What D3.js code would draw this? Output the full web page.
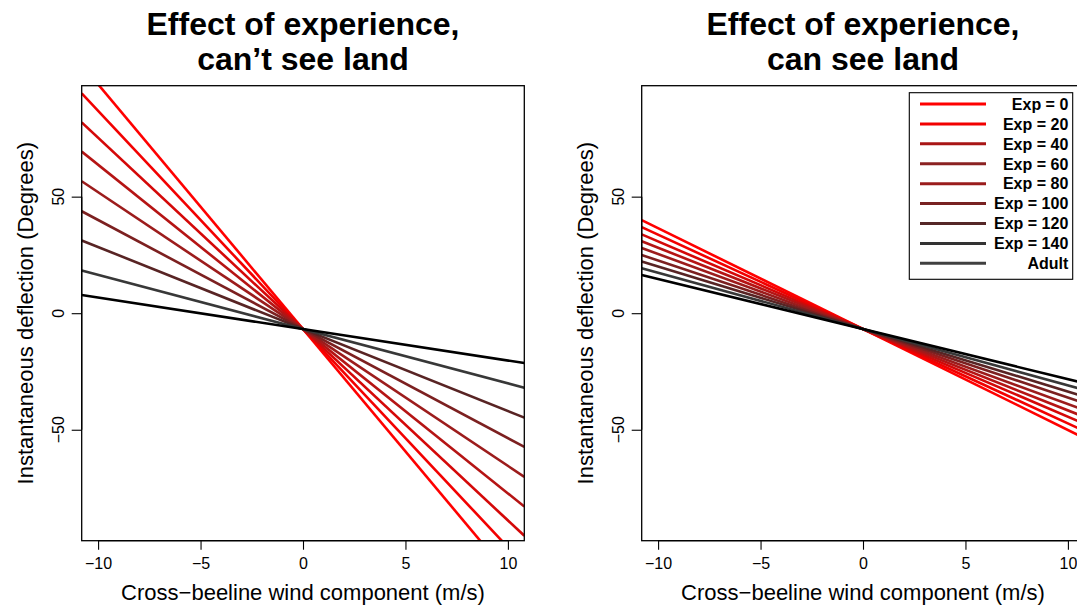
<!DOCTYPE html>
<html>
<head>
<meta charset="utf-8">
<script src="https://cdn.jsdelivr.net/npm/d3@7"></script>
<style>
  html, body { margin: 0; padding: 0; background: #fff; }
  svg { display: block; font-family: "Liberation Sans", Arial, Helvetica, sans-serif; }
</style>
</head>
<body>
<svg id="chart" width="1077" height="612"></svg>
<script>
// Fitted lines: deflection = intercept + slope * wind, one per experience level
const levels = ["Exp = 0", "Exp = 20", "Exp = 40", "Exp = 60", "Exp = 80",
                "Exp = 100", "Exp = 120", "Exp = 140", "Adult"];

// Panel 1: can't see land
const interceptNoLand = [-6.8, -6.8, -6.8, -6.8, -6.8, -6.8, -6.8, -6.8, -6.8];
const slopeNoLand     = [-10.5, -9.36, -8.21, -7.05, -5.87, -4.68, -3.52, -2.33, -1.35];

// Panel 2: can see land
const interceptLand = [-6.8, -6.8, -6.8, -6.8, -6.8, -6.8, -6.8, -6.8, -6.8];
const slopeLand     = [-4.33, -4.05, -3.76, -3.49, -3.22, -2.94, -2.68, -2.42, -2.15];

const lineColors   = ["#ff0000", "#f20000", "#d40808", "#b51414", "#9c1c1c",
                      "#7c2020", "#582424", "#383838", "#000000"];
const legendColors = ["#ff0000", "#f20000", "#a81515", "#8b2222", "#9a1c1c",
                      "#782222", "#552828", "#333333", "#404040"];

const xTicks = [-10, -5, 0, 5, 10];
const yTicks = [-50, 0, 50];
const xDomain = [-10.8, 10.8];
const yDomain = [-97.6, 97.6];

const panels = [
  { title: ["Effect of experience,", "can\u2019t see land"], intercept: interceptNoLand, slope: slopeNoLand, left: 81.7, legend: false },
  { title: ["Effect of experience,", "can see land"], intercept: interceptLand, slope: slopeLand, left: 641.7, legend: true }
];

const plotW = 442.6, plotTop = 85.7, plotBottom = 540.7;
const svg = d3.select("#chart");
svg.append("rect").attr("width", 1077).attr("height", 612).attr("fill", "#fff");

panels.forEach((p, pi) => {
  const x = d3.scaleLinear().domain(xDomain).range([p.left, p.left + plotW]);
  const y = d3.scaleLinear().domain(yDomain).range([plotBottom, plotTop]);
  const g = svg.append("g");
  const cx = p.left + plotW / 2;

  const clipId = "clip" + pi;
  svg.append("clipPath").attr("id", clipId)
    .append("rect").attr("x", p.left).attr("y", plotTop)
    .attr("width", plotW).attr("height", plotBottom - plotTop);

  // regression lines across the whole plotting region
  const lineGen = d3.line().x(d => x(d[0])).y(d => y(d[1]));
  const lines = levels.map((lv, i) =>
    xDomain.map(w => [w, p.intercept[i] + p.slope[i] * w]));
  g.append("g").attr("clip-path", `url(#${clipId})`)
    .selectAll("path").data(lines).join("path")
    .attr("d", lineGen)
    .attr("fill", "none")
    .attr("stroke", (d, i) => lineColors[i])
    .attr("stroke-width", 2.6);

  // frame
  g.append("rect").attr("x", p.left).attr("y", plotTop)
    .attr("width", plotW).attr("height", plotBottom - plotTop)
    .attr("fill", "none").attr("stroke", "#000").attr("stroke-width", 1.3);

  // x axis
  const xAxis = d3.axisBottom(x).tickValues(xTicks).tickSize(9).tickPadding(8)
    .tickFormat(d => d < 0 ? "\u2212" + Math.abs(d) : String(d));
  const gx = g.append("g").attr("transform", `translate(0,${plotBottom})`).call(xAxis);
  gx.select(".domain").attr("d", `M${x(xTicks[0])},0H${x(xTicks[xTicks.length - 1])}`)
    .attr("stroke", "#000").attr("stroke-width", 1.3);
  gx.selectAll(".tick line").attr("stroke", "#000").attr("stroke-width", 1.1);
  gx.selectAll(".tick text").attr("font-size", 16).attr("fill", "#000")
    .attr("font-family", "Liberation Sans, Arial, sans-serif").attr("dy", "0.71em");

  // y axis with labels running parallel to the axis
  const yAxis = d3.axisLeft(y).tickValues(yTicks).tickSize(10).tickFormat("");
  const gy = g.append("g").attr("transform", `translate(${p.left},0)`).call(yAxis);
  gy.select(".domain").attr("d", `M0,${y(yTicks[yTicks.length - 1])}V${y(yTicks[0])}`)
    .attr("stroke", "#000").attr("stroke-width", 1.3);
  gy.selectAll(".tick line").attr("stroke", "#000").attr("stroke-width", 1.1);
  g.selectAll(".ylab").data(yTicks).join("text")
    .attr("transform", d => `translate(${p.left - 18},${y(d)}) rotate(-90)`)
    .attr("text-anchor", "middle").attr("font-size", 16).attr("fill", "#000")
    .text(d => d < 0 ? "\u2212" + Math.abs(d) : String(d));

  // axis titles
  g.append("text").attr("x", cx).attr("y", 600).attr("text-anchor", "middle")
    .attr("font-size", 22).text("Cross\u2212beeline wind component (m/s)");
  g.append("text").attr("transform", `translate(${p.left - 49},${(plotTop + plotBottom) / 2}) rotate(-90)`)
    .attr("text-anchor", "middle").attr("font-size", 22)
    .text("Instantaneous deflection (Degrees)");

  // two-line title
  g.selectAll(".ttl").data(p.title).join("text")
    .attr("x", cx).attr("y", (d, i) => 35 + i * 35)
    .attr("text-anchor", "middle").attr("font-size", 32).attr("font-weight", "bold")
    .text(d => d);

  if (p.legend) {
    const lx = 909.3, ly = 92.7, lw = 163.4, lh = 186.6;
    const lg = g.append("g");
    lg.append("rect").attr("x", lx).attr("y", ly).attr("width", lw).attr("height", lh)
      .attr("fill", "#fff").attr("stroke", "#000").attr("stroke-width", 1.1);
    const row = d3.scaleLinear().domain([0, levels.length - 1]).range([104, 263.3]);
    lg.selectAll("line").data(levels).join("line")
      .attr("x1", 920).attr("x2", 986)
      .attr("y1", (d, i) => row(i)).attr("y2", (d, i) => row(i))
      .attr("stroke", (d, i) => legendColors[i]).attr("stroke-width", 3);
    lg.selectAll("text").data(levels).join("text")
      .attr("x", 1068.3).attr("y", (d, i) => row(i) + 5.8)
      .attr("text-anchor", "end").attr("font-size", 16).attr("font-weight", "bold")
      .text(d => d);
  }
});
</script>
</body>
</html>
